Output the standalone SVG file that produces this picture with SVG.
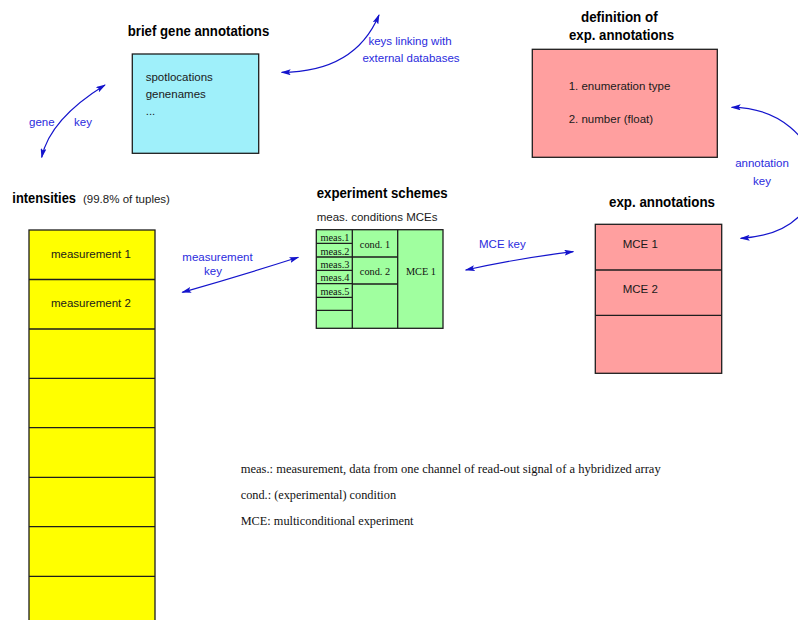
<svg xmlns="http://www.w3.org/2000/svg" width="798" height="620" viewBox="0 0 798 620">
<style>
.title{font-family:"Liberation Sans",Arial,sans-serif;font-weight:bold;font-size:15px;fill:#000}
.txt{font-family:"Liberation Sans",Arial,sans-serif;font-size:11.5px;fill:#1a1a1a}
.lbl{font-family:"Liberation Sans",Arial,sans-serif;font-size:11.5px;fill:#2b2bdd}
.ser{font-family:"Liberation Serif","Times New Roman",serif;font-size:10.3px;fill:#111}
.note{font-family:"Liberation Serif","Times New Roman",serif;font-size:12.3px;fill:#111}
.box{stroke:#1e1e1e;stroke-width:1.3}
.ln{stroke:#1e1e1e;stroke-width:1.3;fill:none}
.con{stroke:#1414cc;stroke-width:1.2;fill:none;marker-start:url(#ah);marker-end:url(#ah)}
</style>
<defs>
<marker id="ah" viewBox="0 0 10 6" refX="9" refY="3" markerWidth="10" markerHeight="6" markerUnits="userSpaceOnUse" orient="auto-start-reverse">
<path d="M0,0 L10,3 L0,6 L2,3 Z" fill="#1414cc"/>
</marker>
</defs>
<rect width="798" height="620" fill="#fff"/>

<g id="brief-gene-annotations">
<text class="title" x="127.7" y="36" textLength="141.6" lengthAdjust="spacingAndGlyphs">brief gene annotations</text>
<rect class="box" x="132.3" y="54" width="126.4" height="99.3" fill="#9ff0fa"/>
<text class="txt" x="145.7" y="81">spotlocations</text>
<text class="txt" x="145.7" y="98">genenames</text>
<text class="txt" x="145.7" y="115">...</text>
</g>

<g id="definition-exp-annotations">
<text class="title" x="619.3" y="22" text-anchor="middle" textLength="76.7" lengthAdjust="spacingAndGlyphs">definition of</text>
<text class="title" x="621.5" y="40" text-anchor="middle" textLength="105" lengthAdjust="spacingAndGlyphs">exp. annotations</text>
<rect class="box" x="532.3" y="49.3" width="185" height="108" fill="#ff9f9f"/>
<text class="txt" x="568.7" y="90">1. enumeration type</text>
<text class="txt" x="568.7" y="122.5">2. number (float)</text>
</g>

<g id="intensities">
<text class="title" x="12.3" y="203" textLength="63.7" lengthAdjust="spacingAndGlyphs">intensities</text>
<text class="txt" x="83" y="203">(99.8% of tuples)</text>
<rect class="box" x="29" y="230" width="126" height="400" fill="#ffff00"/>
<path class="ln" d="M29,279.5H155M29,329H155M29,378.3H155M29,427.7H155M29,477.3H155M29,526.7H155M29,576.3H155"/>
<text class="txt" x="51" y="258">measurement 1</text>
<text class="txt" x="51" y="307">measurement 2</text>
</g>

<g id="experiment-schemes">
<text class="title" x="316.7" y="198" textLength="131" lengthAdjust="spacingAndGlyphs">experiment schemes</text>
<text class="txt" x="316.7" y="220.5">meas. conditions MCEs</text>
<rect class="box" x="316.3" y="229.7" width="126.7" height="98.6" fill="#a0ff9f"/>
<path class="ln" d="M352.3,229.7V328.3M397.7,229.7V328.3M316.3,243.3H352.3M316.3,257H352.3M316.3,270.3H352.3M316.3,283.7H352.3M316.3,297.3H352.3M316.3,310.3H352.3M352.3,257H397.7M352.3,284H397.7"/>
<text class="ser" x="320.5" y="241">meas.1</text>
<text class="ser" x="320.5" y="254.5">meas.2</text>
<text class="ser" x="320.5" y="268">meas.3</text>
<text class="ser" x="320.5" y="281.3">meas.4</text>
<text class="ser" x="320.5" y="294.7">meas.5</text>
<text class="ser" x="375" y="247.5" text-anchor="middle">cond. 1</text>
<text class="ser" x="375" y="274.5" text-anchor="middle">cond. 2</text>
<text class="ser" x="421" y="274.5" text-anchor="middle">MCE 1</text>
</g>

<g id="exp-annotations">
<text class="title" x="609" y="207" textLength="106" lengthAdjust="spacingAndGlyphs">exp. annotations</text>
<rect class="box" x="595.3" y="224.3" width="126.4" height="149" fill="#ff9f9f"/>
<path class="ln" d="M595.3,270H721.7M595.3,315.3H721.7"/>
<text class="txt" x="622.7" y="247.5">MCE 1</text>
<text class="txt" x="622.7" y="293">MCE 2</text>
</g>

<g id="connectors">
<path class="con" d="M105,85 Q50,119 41.7,157.3"/>
<path class="con" d="M281.7,72.3 Q355,72 379,15"/>
<path class="con" d="M182.3,292.3 Q240,276 298.3,257.3"/>
<path class="con" d="M465.7,270 Q520,258 573.3,251.7"/>
<path class="con" d="M731.7,107.3 C830,108 852,232 740.7,238.3"/>
<text class="lbl" x="29" y="126">gene</text>
<text class="lbl" x="74" y="126">key</text>
<text class="lbl" x="410" y="45" text-anchor="middle">keys linking with</text>
<text class="lbl" x="411" y="61.5" text-anchor="middle">external databases</text>
<text class="lbl" x="217.5" y="261" text-anchor="middle">measurement</text>
<text class="lbl" x="213" y="274.5" text-anchor="middle">key</text>
<text class="lbl" x="479" y="247.5">MCE key</text>
<text class="lbl" x="762" y="167" text-anchor="middle">annotation</text>
<text class="lbl" x="762" y="184.5" text-anchor="middle">key</text>
</g>

<g id="notes">
<text class="note" x="240.7" y="472.7" textLength="420" lengthAdjust="spacingAndGlyphs">meas.: measurement, data from one channel of read-out signal of a hybridized array</text>
<text class="note" x="240.7" y="499.3">cond.: (experimental) condition</text>
<text class="note" x="240.7" y="525">MCE: multiconditional experiment</text>
</g>
</svg>
